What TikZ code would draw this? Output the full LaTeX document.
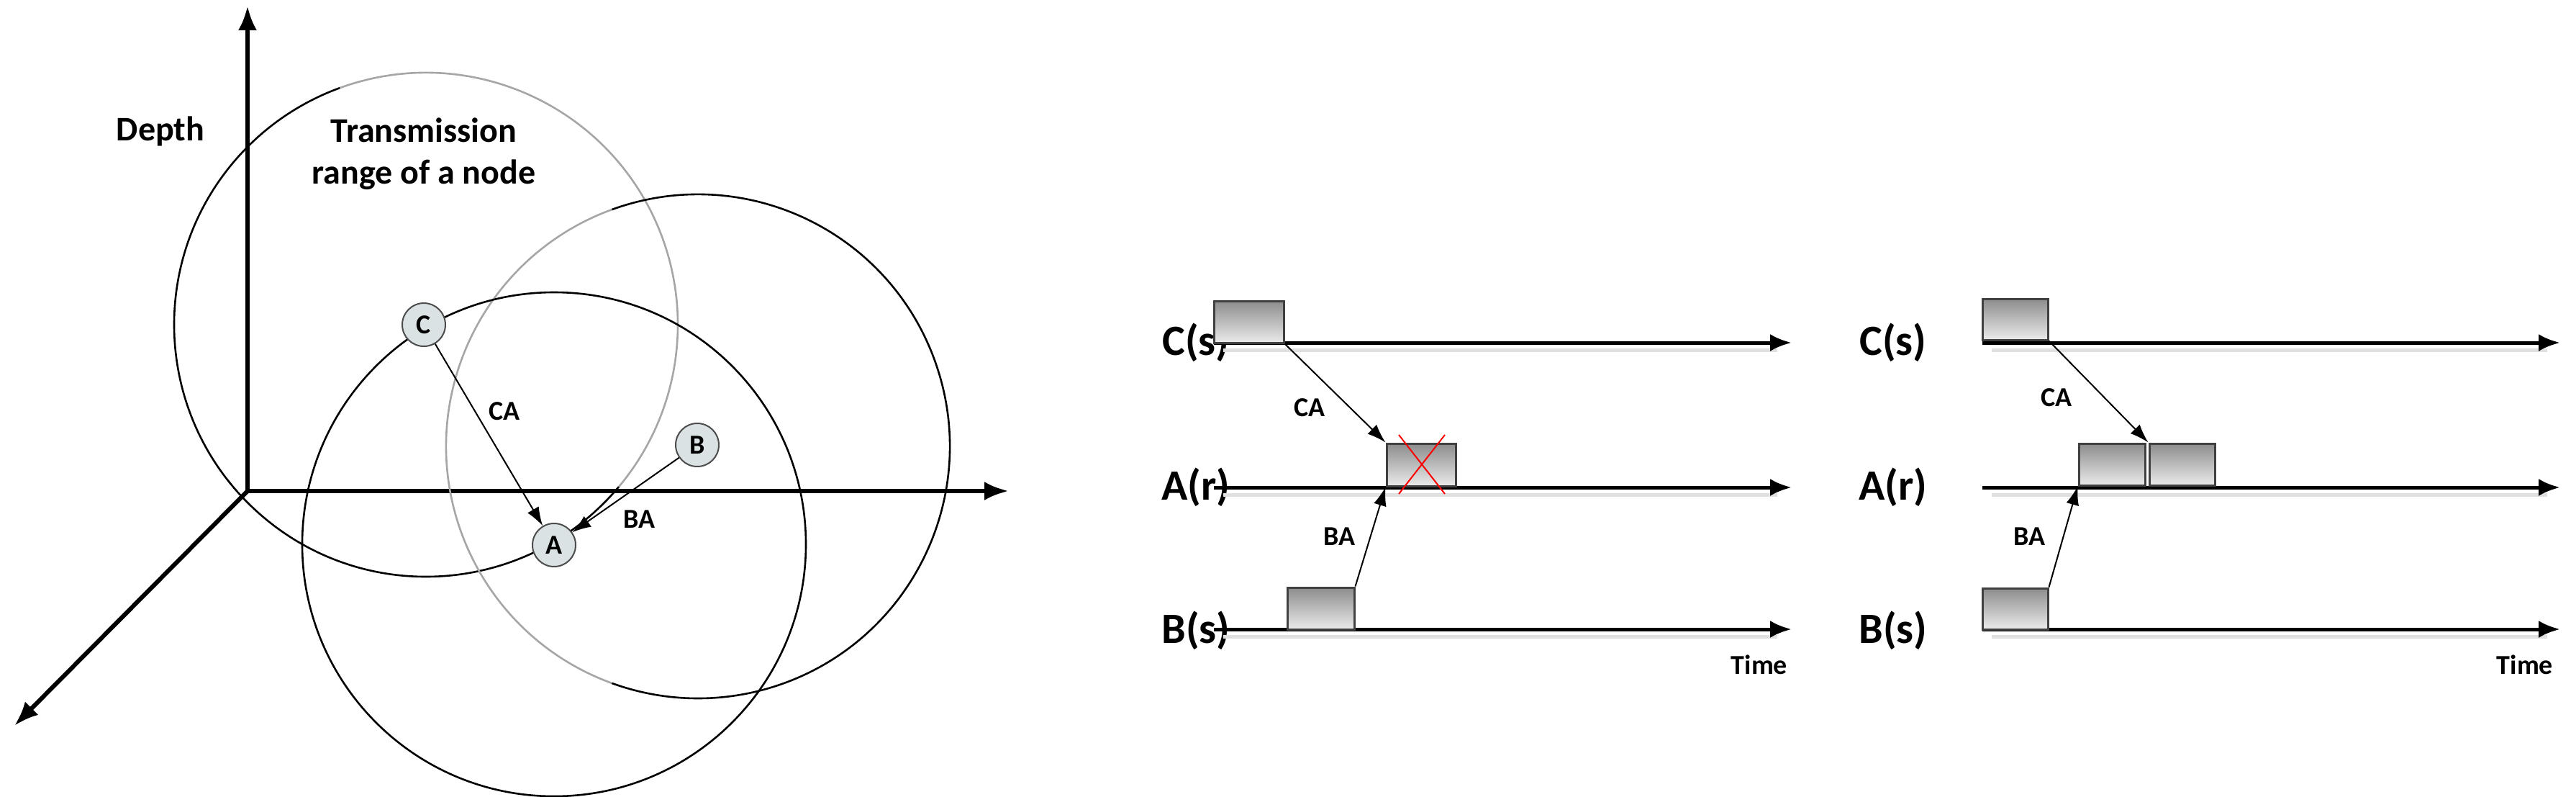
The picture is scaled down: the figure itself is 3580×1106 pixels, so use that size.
\documentclass[tikz,border=0pt]{standalone}
\usepackage{fontspec}
\setmainfont{Carlito}
\usetikzlibrary{arrows.meta}
\begin{document}
\begin{tikzpicture}[x=1pt,y=-1pt,
  axis/.style={line width=6pt,-{Latex[length=34pt,width=26pt]}},
  rng/.style={line width=2.6pt},
  rngl/.style={line width=2.6pt,black!35},
  nd/.style={circle,draw=black!70,line width=2pt,fill=blue!20!cyan!15!gray!25,minimum size=60pt,inner sep=0pt,font=\fontsize{38}{40}\selectfont\bfseries},
  lbl/.style={font=\fontsize{48}{58}\selectfont\bfseries,align=center},
  sm/.style={font=\fontsize{38}{44}\selectfont\bfseries},
  tl/.style={line width=5pt,-{Latex[length=30pt,width=24pt]}},
  shd/.style={line width=5pt,black!12},
  msg/.style={line width=2pt,-{Latex[length=26pt,width=18pt]}},
  box/.style={draw=black!75,line width=3pt,top color=black!45,bottom color=black!8,inner sep=0pt},
  row/.style={font=\fontsize{60}{66}\selectfont\bfseries}]
\useasboundingbox (0,0) rectangle (3580,1106);
% left panel: axes
\coordinate (O) at (344,682);
\coordinate (Ytop) at (344,8);
\coordinate (Xend) at (1402,682);
\coordinate (Zend) at (20,1008);
\draw[axis] (O) -- (Ytop);
\draw[axis] (O) -- (Xend);
\draw[axis] (O) -- (Zend);
% ranges
\draw[rng] (592,451) ++(40:350) arc[start angle=40,end angle=250,radius=350];
\draw[rngl] (592,451) ++(250:350) arc[start angle=250,end angle=400,radius=350];
\draw[rng] (970,620) ++(-110:350) arc[start angle=-110,end angle=110,radius=350];
\draw[rngl] (970,620) ++(110:350) arc[start angle=110,end angle=250,radius=350];
\draw[rng] (770,756) circle[radius=350];
% nodes
\node[nd] (C) at (589,451) {C};
\node[nd] (B) at (969,618) {B};
\node[nd] (A) at (770,757) {A};
\draw[msg] (C) -- (A);
\draw[msg] (B) -- (A);
\node[sm] (ca0) at (701,571) {CA};
\node[sm] (ba0) at (888,721) {BA};
\node[lbl] (depth) at (223,182) {Depth};
\node[lbl] (trans) at (589,214) {Transmission\\range of a node};
% middle panel
\node[row] (c1) at (1662,476) {C(s)};
\node[row] (a1) at (1662,677) {A(r)};
\node[row] (b1) at (1662,876) {B(s)};
\coordinate (c1s) at (1687,476); \coordinate (c1e) at (2490,476);
\coordinate (a1s) at (1687,677); \coordinate (a1e) at (2490,677);
\coordinate (b1s) at (1687,874); \coordinate (b1e) at (2490,874);
\draw[shd] (1700,486) -- (2470,486);
\draw[shd] (1700,687) -- (2470,687);
\draw[shd] (1700,884) -- (2470,884);
\draw[tl] (c1s) -- (c1e);
\draw[tl] (a1s) -- (a1e);
\draw[tl] (b1s) -- (b1e);
\node[box,minimum width=97pt,minimum height=58pt] (cb1) at (1735.5,447) {};
\node[box,minimum width=96pt,minimum height=59pt] (ab1) at (1975,645.5) {};
\node[box,minimum width=93pt,minimum height=58pt] (bb1) at (1835.5,845) {};
\draw[red,line width=2pt] (1944,604) -- (2008,686) (2008,604) -- (1944,686);
\draw[msg] (cb1.south east) -- (ab1.north west);
\draw[msg] (bb1.north east) -- (ab1.south west);
\node[sm] (ca1) at (1820,566) {CA};
\node[sm] (ba1) at (1861,745) {BA};
\node[sm] (t1) at (2445,923) {Time};
% right panel
\node[row] (c2) at (2631,476) {C(s)};
\node[row] (a2) at (2631,677) {A(r)};
\node[row] (b2) at (2631,876) {B(s)};
\coordinate (c2s) at (2755,476); \coordinate (c2e) at (3558,476);
\coordinate (a2s) at (2755,677); \coordinate (a2e) at (3558,677);
\coordinate (b2s) at (2755,874); \coordinate (b2e) at (3558,874);
\draw[shd] (2768,486) -- (3540,486);
\draw[shd] (2768,687) -- (3540,687);
\draw[shd] (2768,884) -- (3540,884);
\draw[tl] (c2s) -- (c2e);
\draw[tl] (a2s) -- (a2e);
\draw[tl] (b2s) -- (b2e);
\node[box,minimum width=91pt,minimum height=57pt] (cb2) at (2800.5,443.5) {};
\node[box,minimum width=92pt,minimum height=58pt] (ab2) at (2935,645) {};
\node[box,minimum width=91pt,minimum height=58pt] (ab3) at (3032.5,645) {};
\node[box,minimum width=91pt,minimum height=57pt] (bb2) at (2800.5,845.5) {};
\draw[msg] (cb2.south east) -- (ab3.north west);
\draw[msg] (bb2.north east) -- (ab2.south west);
\node[sm] (ca2) at (2858,552) {CA};
\node[sm] (ba2) at (2820,745) {BA};
\node[sm] (t2) at (3509,923) {Time};
\end{tikzpicture}
\end{document}
